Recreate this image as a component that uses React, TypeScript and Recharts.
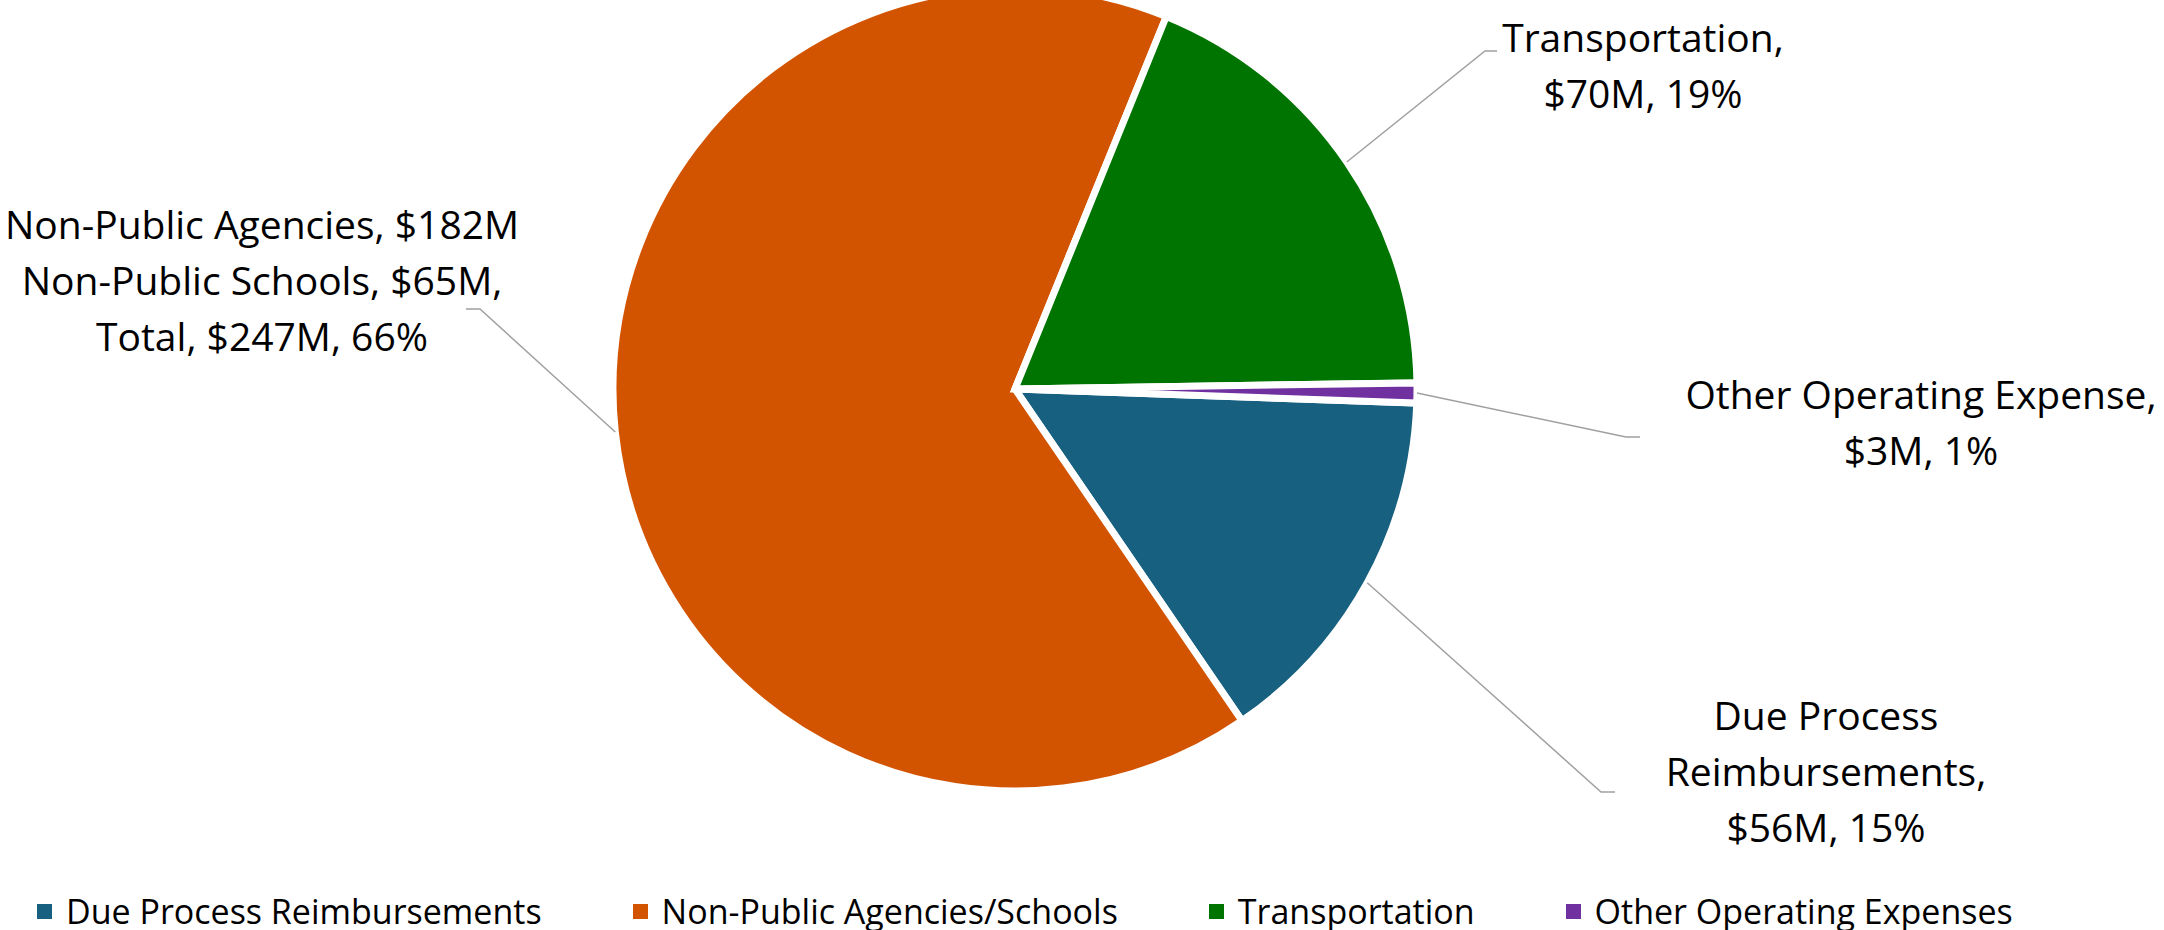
import { PieChart, Pie, Cell, Legend } from "recharts";

const categories = [
  "Due Process Reimbursements",
  "Non-Public Agencies/Schools",
  "Transportation",
  "Other Operating Expenses",
];
// spending in $M
const amounts = [56, 247, 70, 3];
const labelLines = [
  ["Due Process", "Reimbursements,", "$56M, 15%"],
  ["Non-Public Agencies, $182M", "Non-Public Schools, $65M,", "Total, $247M, 66%"],
  ["Transportation,", "$70M, 19%"],
  ["Other Operating Expense,", "$3M, 1%"],
];
const colors = ["#17607F", "#D35400", "#007400", "#7030A0"];

// callout placement: leader elbow, leader end, text centre x, first baseline
const callouts = [
  { elbow: [1601, 792], end: [1615, 792], x: 1826, y: 730 },
  { elbow: [480, 309], end: [466, 309], x: 262, y: 239 },
  { elbow: [1485, 51], end: [1497, 51], x: 1643, y: 52 },
  { elbow: [1626, 437], end: [1640, 437], x: 1921, y: 409 },
];

const FONT = "'Open Sans', sans-serif";
const RADIAN = Math.PI / 180;
const LINE_GAP = 56;

const data = categories.map((name, i) => ({ name, value: amounts[i] }));

function renderLabel(props: any) {
  const { cx, cy, midAngle, outerRadius, index } = props;
  const sx = cx + outerRadius * Math.cos(-midAngle * RADIAN);
  const sy = cy + outerRadius * Math.sin(-midAngle * RADIAN);
  const c = callouts[index];
  return (
    <g>
      <polyline
        points={`${sx},${sy} ${c.elbow[0]},${c.elbow[1]} ${c.end[0]},${c.end[1]}`}
        fill="none"
        stroke="#a0a0a0"
        strokeWidth={1.5}
      />
      <text
        x={c.x}
        y={c.y}
        textAnchor="middle"
        fontFamily={FONT}
        fontSize={39}
        fill="#000"
      >
        {labelLines[index].map((line, i) => (
          <tspan key={i} x={c.x} y={c.y + i * LINE_GAP}>
            {line}
          </tspan>
        ))}
      </text>
    </g>
  );
}

function renderLegend() {
  return (
    <div
      style={{
        display: "flex",
        alignItems: "center",
        paddingLeft: 37,
        fontFamily: FONT,
        fontSize: 34,
        lineHeight: "40px",
        height: 40,
        color: "#000",
        whiteSpace: "nowrap",
      }}
    >
      {categories.map((name, i) => (
        <div
          key={name}
          style={{ display: "flex", alignItems: "center", marginRight: 91 }}
        >
          <span
            style={{
              display: "inline-block",
              width: 15,
              height: 15,
              background: colors[i],
              marginRight: 14,
            }}
          />
          <span>{name}</span>
        </div>
      ))}
    </div>
  );
}

export default function App() {
  return (
    <div style={{ position: "absolute", left: 0, top: 0, background: "#fff" }}>
      <PieChart width={2164} height={930}>
        <Pie
          data={data}
          dataKey="value"
          nameKey="name"
          cx={1010}
          cy={384}
          outerRadius={402}
          startAngle={-2}
          endAngle={-362}
          stroke="#fff"
          strokeWidth={7}
          label={renderLabel}
          labelLine={false}
          isAnimationActive={false}
        >
          {data.map((entry, i) => (
            <Cell key={entry.name} fill={colors[i]} />
          ))}
        </Pie>
        <Legend
          content={renderLegend}
          wrapperStyle={{ left: 0, top: 891, bottom: "auto", width: 2164, height: 40 }}
        />
      </PieChart>
    </div>
  );
}
